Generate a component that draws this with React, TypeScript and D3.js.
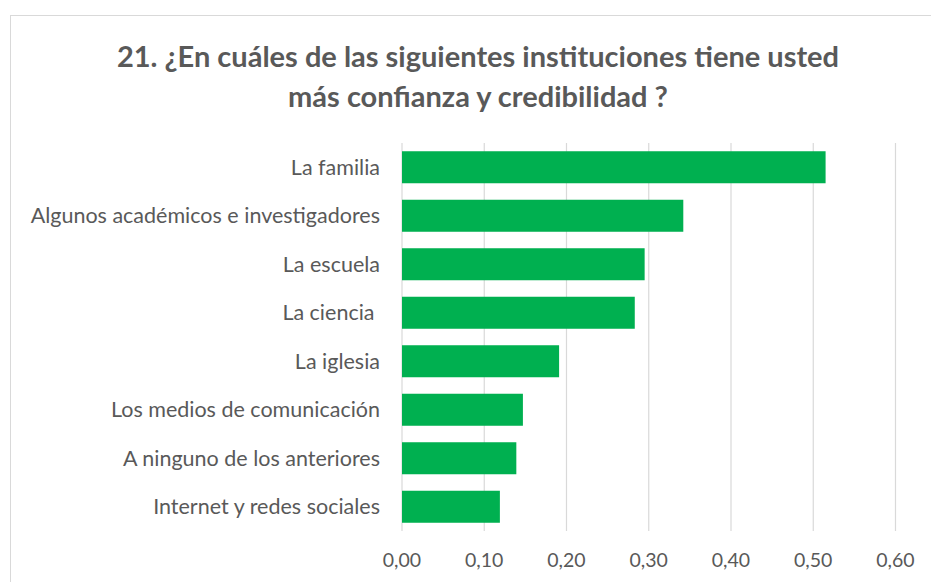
import React from "react";
import * as d3 from "d3";

const categories = [
  "La familia",
  "Algunos académicos e investigadores",
  "La escuela",
  "La ciencia ",
  "La iglesia",
  "Los medios de comunicación",
  "A ninguno de los anteriores",
  "Internet y redes sociales",
];
const values = [0.515, 0.342, 0.295, 0.283, 0.191, 0.147, 0.139, 0.119];
const ticks = [0, 0.1, 0.2, 0.3, 0.4, 0.5, 0.6];
const titleLines = [
  "21. ¿En cuáles de las siguientes instituciones tiene usted",
  "más confianza y credibilidad ?",
];

const W = 931;
const H = 582;
const FONT = "Lato, 'Open Sans', sans-serif";

export default function App() {
  const x = d3.scaleLinear().domain([0, 0.6]).range([402, 895.5]);
  const y = d3
    .scaleBand<string>()
    .domain(categories)
    .range([143, 531])
    .paddingInner(0.34)
    .paddingOuter(0.17);
  const fmt = (v: number) => v.toFixed(2).replace(".", ",");
  return (
    <svg
      width={W}
      height={H}
      style={{ position: "absolute", left: 0, top: 0, background: "#fff" }}
    >
      <rect x={10.5} y={15.5} width={W} height={H} fill="#fff" stroke="#d9d9d9" strokeWidth={1} />
      {titleLines.map((t, i) => (
        <text
          key={i}
          x={478}
          y={67 + i * 40}
          textAnchor="middle"
          fontFamily={FONT}
          fontWeight="bold"
          fontSize={29}
          fill="#595959"
        >
          {t}
        </text>
      ))}
      {ticks.map((t) => (
        <line
          key={t}
          x1={x(t)}
          x2={x(t)}
          y1={143}
          y2={531}
          stroke="#d9d9d9"
          strokeWidth={1.2}
        />
      ))}
      {categories.map((c, i) => (
        <rect
          key={c}
          x={x(0)}
          y={y(c)}
          width={x(values[i]) - x(0)}
          height={y.bandwidth()}
          fill="#00b050"
        />
      ))}
      {categories.map((c) => (
        <text
          key={c}
          x={380}
          y={(y(c) as number) + y.bandwidth() / 2}
          dy="0.35em"
          textAnchor="end"
          fontFamily={FONT}
          fontSize={21.5}
          fill="#595959"
          style={{ whiteSpace: "pre" }}
        >
          {c}
        </text>
      ))}
      {ticks.map((t) => (
        <text
          key={t}
          x={x(t)}
          y={560}
          dy="0.35em"
          textAnchor="middle"
          fontFamily={FONT}
          fontSize={19.5}
          fill="#595959"
        >
          {fmt(t)}
        </text>
      ))}
    </svg>
  );
}
